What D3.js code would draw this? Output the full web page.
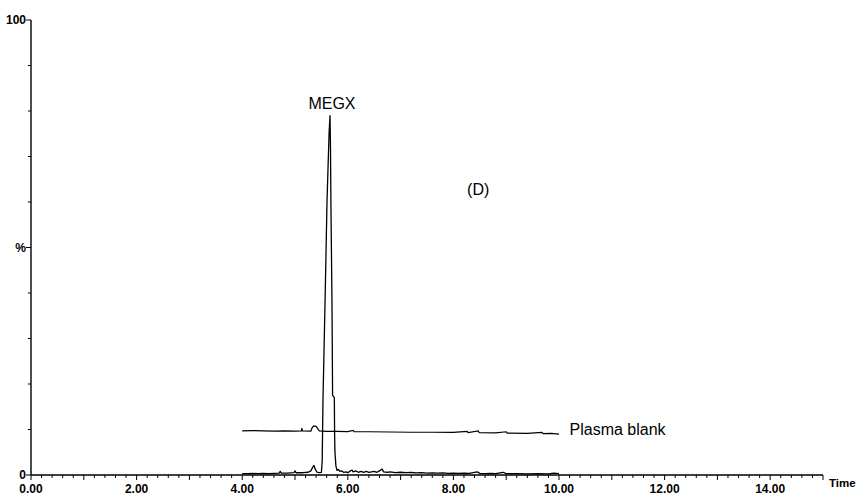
<!DOCTYPE html>
<html>
<head>
<meta charset="utf-8">
<script src="https://cdn.jsdelivr.net/npm/d3@7"></script>
<style>
  html, body { margin: 0; padding: 0; background: #fff; }
  svg { display: block; }
  text { font-family: "Liberation Sans", Arial, Helvetica, sans-serif; fill: #000; }
</style>
</head>
<body>
<svg id="chart" width="862" height="501"></svg>
<script>
// ---- data ----
const xTickLabels = ["0.00","2.00","4.00","6.00","8.00","10.00","12.00","14.00"];
const xTickValues = [0, 2, 4, 6, 8, 10, 12, 14];
const yTickLabels = ["0", "%", "100"];
const yTickValues = [0, 50, 100];

const megxTime = [4.00,4.10,4.20,4.30,4.40,4.50,4.60,4.70,4.72,4.74,4.85,4.98,5.00,5.02,5.15,5.25,5.30,5.33,5.36,5.38,5.41,5.45,5.50,
  5.515,5.53,5.57,5.606,5.645,5.663,5.672,5.68,5.70,5.712,5.745,5.75,5.757,5.775,5.795,
  5.82,5.85,5.88,5.92,5.97,6.00,6.05,6.08,6.10,6.15,6.20,6.25,6.30,6.35,6.40,6.45,6.50,6.55,6.60,6.65,6.68,6.75,6.80,6.90,
  7.00,7.10,7.20,7.30,7.40,7.50,7.60,7.70,7.80,7.90,8.00,8.10,8.20,8.30,8.45,8.50,8.60,8.70,8.80,8.94,9.00,9.20,9.40,9.60,9.80,9.90,10.00];
const megxPct = [0.3,0.3,0.35,0.3,0.35,0.3,0.35,0.4,0.8,0.4,0.4,0.5,0.9,0.5,0.5,0.6,0.9,1.6,2.1,1.4,0.7,0.5,0.6,
  3,16.5,38.5,60,75,79,72,60,38.5,17.5,17,9,5,2,1.0,
  1.2,0.8,0.9,0.6,0.7,0.5,0.9,1.1,0.7,0.9,0.6,0.8,0.6,0.8,0.6,0.7,0.8,0.6,0.9,1.3,0.7,0.6,0.7,0.5,
  0.6,0.5,0.55,0.45,0.5,0.4,0.45,0.4,0.45,0.35,0.4,0.35,0.4,0.35,0.7,0.35,0.3,0.35,0.3,0.6,0.3,0.3,0.25,0.3,0.25,0.4,0.3];

const blankTime = [4.00,4.20,4.40,4.60,4.80,5.00,5.12,5.13,5.14,5.30,5.33,5.36,5.40,5.43,5.46,5.60,5.80,6.00,6.10,6.12,6.40,6.80,
  7.20,7.60,8.00,8.26,8.28,8.47,8.49,8.80,9.00,9.02,9.40,9.68,9.70,9.85,10.00];
const blankPct = [9.7,9.75,9.7,9.65,9.7,9.65,9.7,10.3,9.7,9.65,10.5,10.8,10.7,10.2,9.7,9.6,9.6,9.55,9.8,9.55,9.5,9.45,
  9.4,9.4,9.35,9.6,9.3,9.7,9.3,9.25,9.5,9.2,9.15,9.35,9.1,9.15,9.0];

const annotations = [
  {text: "MEGX", t: 5.70, p: 80.5, anchor: "middle"},
  {text: "(D)", t: 8.47, p: 61.5, anchor: "middle"},
  {text: "Plasma blank", t: 10.2, p: 8.8, anchor: "start"}
];

// ---- drawing ----
const svg = d3.select("#chart");
const x = d3.scaleLinear().domain([0, 15]).range([31, 823]);
const y = d3.scaleLinear().domain([0, 100]).range([475, 20]);

// x axis: minor ticks every 0.2, medium every 1
const xAxisG = svg.append("g").attr("transform", `translate(0,${y(0)})`);
xAxisG.append("line").attr("x1", x(0)).attr("x2", x(15)).attr("stroke", "#000").attr("stroke-width", 1.4);
const minor = d3.range(0, 75 + 1).map(i => i / 5);
xAxisG.selectAll("line.tk").data(minor).join("line")
  .attr("class", "tk")
  .attr("x1", d => x(d)).attr("x2", d => x(d))
  .attr("y1", 0)
  .attr("y2", d => Math.abs(d - Math.round(d)) < 1e-6 ? 5 : 3)
  .attr("stroke", "#000").attr("stroke-width", 1);
xAxisG.selectAll("text").data(xTickValues).join("text")
  .attr("x", d => x(d)).attr("y", 18)
  .attr("text-anchor", "middle")
  .attr("font-size", 12).attr("font-weight", "bold")
  .text((d, i) => xTickLabels[i]);
svg.append("text").attr("x", 829).attr("y", 487)
  .attr("font-size", 11.5).attr("font-weight", "bold").text("Time");

// y axis
const yAxisG = svg.append("g").attr("transform", `translate(${x(0)},0)`);
yAxisG.append("line").attr("y1", y(0)).attr("y2", y(100)).attr("stroke", "#000").attr("stroke-width", 1.4);
yAxisG.selectAll("line.tk").data(d3.range(0, 101, 10)).join("line")
  .attr("class", "tk")
  .attr("y1", d => y(d)).attr("y2", d => y(d))
  .attr("x1", d => yTickValues.includes(d) ? -5 : -3).attr("x2", 0)
  .attr("stroke", "#000").attr("stroke-width", 1);
yAxisG.selectAll("text").data(yTickValues).join("text")
  .attr("x", -5).attr("y", d => y(d) + 4)
  .attr("text-anchor", "end")
  .attr("font-size", 12).attr("font-weight", "bold")
  .text((d, i) => yTickLabels[i]);

// traces
const line = d3.line().x(d => x(d[0])).y(d => y(d[1]));
svg.append("path")
  .datum(blankTime.map((t, i) => [t, blankPct[i]]))
  .attr("d", line).attr("fill", "none").attr("stroke", "#000").attr("stroke-width", 1.2);
svg.append("path")
  .datum(megxTime.map((t, i) => [t, megxPct[i]]))
  .attr("d", line).attr("fill", "none").attr("stroke", "#000").attr("stroke-width", 1.3)
  .attr("stroke-linejoin", "round");

// annotations
svg.selectAll("text.ann").data(annotations).join("text")
  .attr("class", "ann")
  .attr("x", d => x(d.t)).attr("y", d => y(d.p))
  .attr("text-anchor", d => d.anchor)
  .attr("font-size", 16)
  .text(d => d.text);
</script>
</body>
</html>
